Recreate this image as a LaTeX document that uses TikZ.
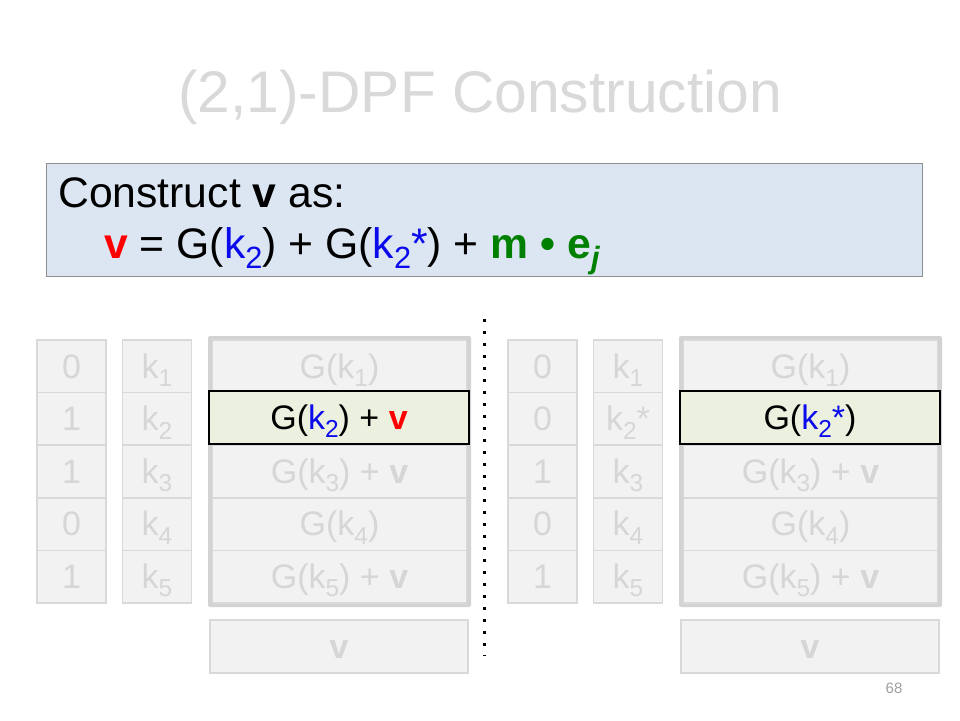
\documentclass[tikz,border=0pt]{standalone}
\usepackage{fontspec}
\usepackage{graphicx}
\setmainfont{Liberation Sans}
\definecolor{cellfill}{HTML}{F2F2F2}
\definecolor{cellborder}{HTML}{D9D9D9}
\definecolor{celltext}{HTML}{D6D6D6}
\definecolor{shadowgray}{HTML}{D3D3D3}
\definecolor{boxfill}{HTML}{DCE6F2}
\definecolor{boxborder}{HTML}{8E8E8E}
\definecolor{hlfill}{HTML}{EBF1DE}
\definecolor{myblue}{RGB}{10,10,235}
\definecolor{myred}{RGB}{255,0,0}
\definecolor{mygreen}{RGB}{0,128,0}
\definecolor{titlegray}{HTML}{D9D9D9}
\definecolor{numgray}{HTML}{A0A0A0}
\newcommand\sbs[1]{\raisebox{-0.25em}{\scalebox{0.72}{#1}}}
\tikzset{
  cellbox/.style={draw=cellborder, line width=1.5pt, fill=cellfill, inner sep=0pt,
    minimum height=52.6pt, text=celltext, font=\fontsize{34}{38}\selectfont,
    text height=23.5pt, text depth=0pt},
  narrowcell/.style={cellbox, minimum width=69pt},
  widecell/.style={cellbox, minimum width=254pt},
  hlcell/.style={draw=black, line width=1.6pt, fill=hlfill, inner sep=0pt,
    minimum width=260pt, minimum height=53pt, text=black,
    font=\fontsize{34}{38}\selectfont, text height=23.5pt, text depth=0pt},
  vbox/.style={cellbox, minimum width=258pt, minimum height=53pt},
  shadowbox/.style={fill=shadowgray, rounded corners=2pt},
  dotline/.style={line width=3pt, dash pattern=on 3pt off 9pt},
}
\begin{document}
\begin{tikzpicture}[x=1pt,y=-1pt]
\useasboundingbox (0,0) rectangle (960,720);
\fill[white] (0,0) rectangle (960,720);
% title
\node[anchor=base, text=titlegray, font=\fontsize{58.7}{64}\selectfont, inner sep=0pt] (title) at (480,112) {(2,1)-DPF Construction};
% blue box
\node[draw=boxborder, line width=1pt, fill=boxfill, minimum width=876pt, minimum height=113pt, inner sep=0pt] (defbox) at (484,219.5) {};
\node[anchor=base west, inner sep=0pt, font=\fontsize{42.7}{48}\selectfont] (line1) at (58,207) {Construct \textbf{v} as:};
\node[anchor=base west, inner sep=0pt, font=\fontsize{42.7}{48}\selectfont] (line2) at (104,258)
  {\textcolor{myred}{\textbf{v}} = G(\textcolor{myblue}{k\sbs{2}}) + G(\textcolor{myblue}{k\sbs{2}*}) + \textcolor{mygreen}{\textbf{m • e\sbs{\textit{j}}}}};
% dotted separator
\coordinate (dtop) at (484,319);
\coordinate (dbot) at (484,656);
\draw[dotline] (dtop) -- (dbot);
% left group
\node[narrowcell] (la1) at (71.5,366.3) {0};
\node[narrowcell] (la2) at (71.5,418.9) {1};
\node[narrowcell] (la3) at (71.5,471.5) {1};
\node[narrowcell] (la4) at (71.5,524.1) {0};
\node[narrowcell] (la5) at (71.5,576.7) {1};
\node[narrowcell] (lb1) at (157,366.3) {k\sbs{1}};
\node[narrowcell] (lb2) at (157,418.9) {k\sbs{2}};
\node[narrowcell] (lb3) at (157,471.5) {k\sbs{3}};
\node[narrowcell] (lb4) at (157,524.1) {k\sbs{4}};
\node[narrowcell] (lb5) at (157,576.7) {k\sbs{5}};
\fill[shadowbox] (208,336) rectangle (471,607);
\node[widecell] (lc1) at (339.5,366.3) {G(k\sbs{1})};
\node[widecell] (lc2) at (339.5,418.9) {};
\node[widecell] (lc3) at (339.5,471.5) {G(k\sbs{3}) + \textbf{v}};
\node[widecell] (lc4) at (339.5,524.1) {G(k\sbs{4})};
\node[widecell] (lc5) at (339.5,576.7) {G(k\sbs{5}) + \textbf{v}};
\node[hlcell] (lhl) at (339,417.5) {G(\textcolor{myblue}{k\sbs{2}}) + \textcolor{myred}{\textbf{v}}};
\node[vbox] (lv) at (339,646.5) {\textbf{v}};
% right group
\begin{scope}[xshift=471pt]
\node[narrowcell] (ra1) at (71.5,366.3) {0};
\node[narrowcell] (ra2) at (71.5,418.9) {0};
\node[narrowcell] (ra3) at (71.5,471.5) {1};
\node[narrowcell] (ra4) at (71.5,524.1) {0};
\node[narrowcell] (ra5) at (71.5,576.7) {1};
\node[narrowcell] (rb1) at (157,366.3) {k\sbs{1}};
\node[narrowcell] (rb2) at (157,418.9) {k\sbs{2}*};
\node[narrowcell] (rb3) at (157,471.5) {k\sbs{3}};
\node[narrowcell] (rb4) at (157,524.1) {k\sbs{4}};
\node[narrowcell] (rb5) at (157,576.7) {k\sbs{5}};
\fill[shadowbox] (208,336) rectangle (471,607);
\node[widecell] (rc1) at (339.5,366.3) {G(k\sbs{1})};
\node[widecell] (rc2) at (339.5,418.9) {};
\node[widecell] (rc3) at (339.5,471.5) {G(k\sbs{3}) + \textbf{v}};
\node[widecell] (rc4) at (339.5,524.1) {G(k\sbs{4})};
\node[widecell] (rc5) at (339.5,576.7) {G(k\sbs{5}) + \textbf{v}};
\node[hlcell] (rhl) at (339,417.5) {G(\textcolor{myblue}{k\sbs{2}*})};
\node[vbox] (rv) at (339,646.5) {\textbf{v}};
\end{scope}
% page number
\node[text=numgray, font=\fontsize{15}{18}\selectfont, inner sep=0pt] (pnum) at (894,688) {68};
\end{tikzpicture}
\end{document}
